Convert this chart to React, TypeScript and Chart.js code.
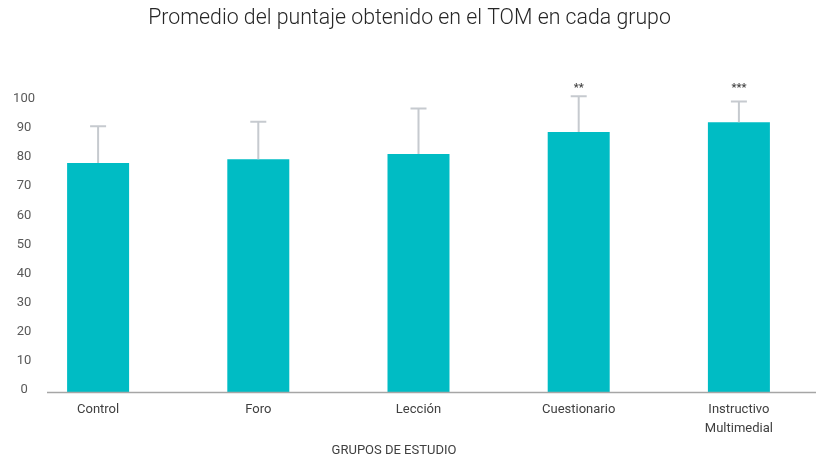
import React, { useEffect, useRef } from "react";
import { Chart, registerables } from "chart.js";

Chart.register(...registerables);

const categories: (string | string[])[] = ["Control", "Foro", "Lección", "Cuestionario", ["Instructivo", "Multimedial"]];
const means = [79, 80.3, 82.1, 89.7, 93.1];
const errors = [12.7, 12.9, 15.7, 12.3, 7.1];
const significance = ["", "", "", "**", "***"];
const starLevel = 105.5;
const yMax = 110;
const yTickValues = [0, 10, 20, 30, 40, 50, 60, 70, 80, 90, 100];

const chartTitle = "Promedio del puntaje obtenido en el TOM en cada grupo";
const xTitle = "GRUPOS DE ESTUDIO";

const BAR_COLOR = "rgb(0,188,196)";
const ERR_COLOR = "#c6cacf";
const FONT = "Roboto, 'Noto Sans', sans-serif";

const errorBarPlugin = {
  id: "errorBars",
  afterDatasetsDraw(chart: any) {
    const ctx = chart.ctx;
    const meta = chart.getDatasetMeta(0);
    const y = chart.scales.y;
    ctx.save();
    meta.data.forEach((bar: any, i: number) => {
      const base = y.getPixelForValue(means[i]);
      const top = y.getPixelForValue(means[i] + errors[i]);
      ctx.strokeStyle = ERR_COLOR;
      ctx.lineWidth = 2;
      ctx.beginPath();
      ctx.moveTo(bar.x, base);
      ctx.lineTo(bar.x, top);
      ctx.moveTo(bar.x - 8, top);
      ctx.lineTo(bar.x + 8, top);
      ctx.stroke();
      if (significance[i]) {
        ctx.fillStyle = "#444444";
        ctx.font = `bold 11px ${FONT}`;
        ctx.textAlign = "center";
        ctx.textBaseline = "middle";
        ctx.fillText(significance[i], bar.x, y.getPixelForValue(starLevel) + 2);
      }
    });
    // x axis baseline
    const area = chart.chartArea;
    ctx.strokeStyle = "#a6a6a6";
    ctx.lineWidth = 1.5;
    ctx.beginPath();
    ctx.moveTo(area.left + 29, area.bottom);
    ctx.lineTo(area.right, area.bottom);
    ctx.stroke();
    // x axis title
    ctx.fillStyle = "#404040";
    ctx.font = `13px ${FONT}`;
    ctx.textAlign = "center";
    ctx.textBaseline = "middle";
    ctx.fillText(xTitle, 394, 450.5);
    ctx.restore();
  },
};

export default function App() {
  const ref = useRef<HTMLCanvasElement | null>(null);

  useEffect(() => {
    if (!ref.current) return;
    const chart = new Chart(ref.current, {
      type: "bar",
      data: {
        labels: categories,
        datasets: [
          {
            data: means,
            backgroundColor: BAR_COLOR,
            borderWidth: 0,
            barPercentage: 0.387,
            categoryPercentage: 1,
          },
        ],
      },
      options: {
        responsive: true,
        maintainAspectRatio: false,
        animation: false,
        layout: { padding: 0 },
        plugins: {
          legend: { display: false },
          tooltip: { enabled: false },
          title: {
            display: true,
            text: chartTitle,
            color: "#262626",
            font: { family: FONT, size: 21.3, weight: "300", lineHeight: 1.2 },
            padding: { top: 6, bottom: 41.5 },
          },
        },
        scales: {
          x: {
            grid: { display: false, drawTicks: false },
            border: { display: false },
            ticks: {
              color: "#404040",
              font: { family: FONT, size: 13, lineHeight: 1.45 },
              padding: 8,
              maxRotation: 0,
              autoSkip: false,
            },
            afterFit(scale: any) {
              scale.height = 67.5;
            },
          },
          y: {
            min: 0,
            max: yMax,
            grid: { display: false, drawTicks: false },
            border: { display: false },
            ticks: {
              stepSize: 10,
              color: "#595959",
              font: { family: FONT, size: 13 },
              crossAlign: "center",
              padding: -17,
              labelOffset: -3,
            },
            afterBuildTicks(scale: any) {
              scale.ticks = yTickValues.map((v) => ({ value: v }));
            },
            afterFit(scale: any) {
              scale.width = 18;
              scale._computeLabelArea = () => undefined;
            },
          },
        },
      },
      plugins: [errorBarPlugin],
    });
    return () => chart.destroy();
  }, []);

  return (
    <div style={{ position: "absolute", left: 0, top: 0, width: 816, height: 460, overflow: "hidden", background: "#fff" }}>
      <div style={{ position: "relative", width: 819, height: 460 }}>
        <canvas ref={ref} />
      </div>
    </div>
  );
}
